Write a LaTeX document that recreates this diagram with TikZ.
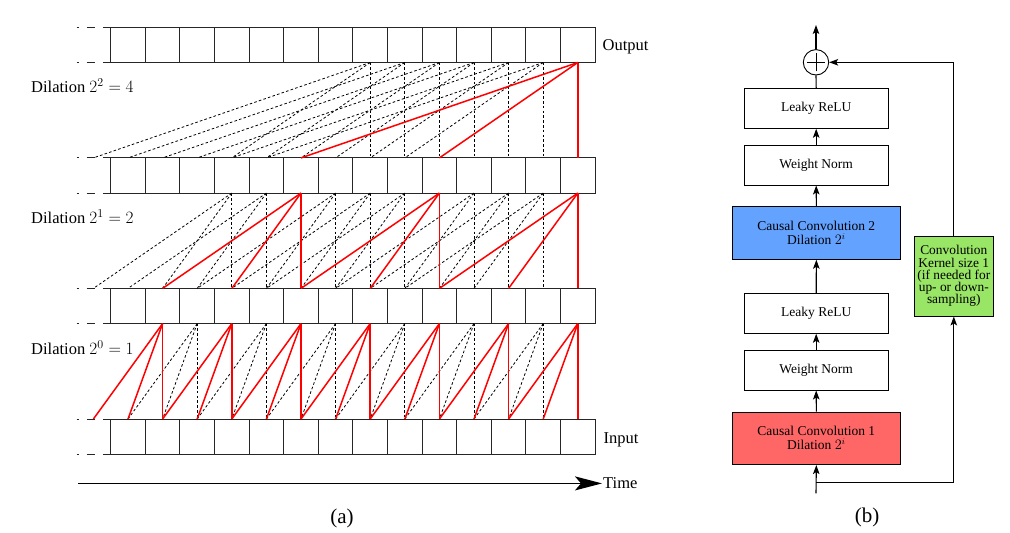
\documentclass[tikz,border=0pt]{standalone}
\usepackage{fontspec}
\setmainfont{Liberation Serif}
\usetikzlibrary{arrows.meta}
\definecolor{convblue}{RGB}{99,162,255}
\definecolor{convred}{RGB}{255,102,102}
\definecolor{convgreen}{RGB}{153,229,102}
\definecolor{linkred}{RGB}{255,0,0}
\begin{document}
\begin{tikzpicture}[x=1pt,y=-1pt,
  cellline/.style={draw=black!85, line width=0.9pt},
  dlink/.style={black, line width=0.8pt, dash pattern=on 2.6pt off 2.2pt},
  rlink/.style={linkred, line width=1.5pt},
  lbl/.style={font=\fontsize{16.5}{18}\selectfont, inner sep=1pt},
  blk/.style={draw, line width=0.9pt, minimum width=144.3pt, minimum height=40pt,
    font=\fontsize{13.5}{14}\selectfont, align=center, inner sep=1pt},
  cbox/.style={blk, minimum width=167.3pt, minimum height=52.6pt},
  arr/.style={line width=1.1pt, -{Stealth[length=9pt,width=6.5pt,inset=2pt]}},
  figcap/.style={font=\fontsize{21}{24}\selectfont, inner sep=0pt}]
\useasboundingbox (0,0) rectangle (1010,533);

% ---------- (a) cells ----------
\foreach \r/\yt in {0/419,1/288.4,2/157.9,3/27.3}{
  \foreach \k in {0,...,13}{
    \node[cellline, minimum width=34.6pt, minimum height=35.2pt, inner sep=0pt]
      (c\r-\k) at ({128+34.6*\k},{\yt+17.6}) {};
  }
  \foreach \j in {-1,...,13}{
    \coordinate (t\r-\j) at ({128+34.6*\j},\yt);
    \coordinate (b\r-\j) at ({128+34.6*\j},{\yt+35.2});
  }
  \foreach \yy in {\yt,{\yt+35.2}}{
    \draw[cellline] (76.7,\yy) -- (79,\yy) (86.7,\yy) -- (95,\yy) (103.3,\yy) -- (110.7,\yy);
  }
}

% ---------- dashed links ----------
\foreach \k in {2,4,...,12}{\foreach \d in {0,1,2}{
  \pgfmathtruncatemacro\j{\k-\d}\draw[dlink] (b1-\k) -- (t0-\j);}}
\foreach \k in {3,4,6,7,8,10,11,12}{\foreach \d in {0,1,2}{
  \pgfmathtruncatemacro\j{\k-2*\d}\draw[dlink] (b2-\k) -- (t1-\j);}}
\foreach \k in {7,...,12}{\foreach \d in {0,1,2}{
  \pgfmathtruncatemacro\j{\k-4*\d}\draw[dlink] (b3-\k) -- (t2-\j);}}

% ---------- red links ----------
\foreach \k in {1,3,...,13}{\foreach \d in {0,1,2}{
  \pgfmathtruncatemacro\j{\k-\d}\draw[rlink] (b1-\k) -- (t0-\j);}}
\foreach \k in {5,9,13}{\foreach \d in {0,1,2}{
  \pgfmathtruncatemacro\j{\k-2*\d}\draw[rlink] (b2-\k) -- (t1-\j);}}
\foreach \d in {0,1,2}{
  \pgfmathtruncatemacro\j{13-4*\d}\draw[rlink] (b3-13) -- (t2-\j);}

% ---------- (a) labels ----------
\node[lbl, anchor=west] (lout) at (601.5,46.5) {Output};
\node[lbl, anchor=west] (lin) at (602.5,439.5) {Input};
\node[lbl, anchor=west] (ld2) at (30,86) {Dilation $2^2=4$};
\node[lbl, anchor=west] (ld1) at (30,217) {Dilation $2^1=2$};
\node[lbl, anchor=west] (ld0) at (30,348) {Dilation $2^0=1$};
\coordinate (ts) at (78,483.4);
\node[lbl, anchor=west] (time) at (602,483.4) {Time};
\draw[line width=1.5pt, -{Stealth[length=27pt,width=14pt,inset=6pt]}] (ts) -- (time.west);
\node[figcap] (capa) at (342,518) {(a)};

% ---------- (b) residual block ----------
\node[blk] (lr2) at (816.2,108.3) {Leaky ReLU};
\node[blk] (wn2) at (816.2,165) {Weight Norm};
\node[cbox, fill=convblue] (cc2) at (816.35,233) {Causal Convolution 2\\Dilation $2^i$};
\node[blk] (lr1) at (816.2,313.3) {Leaky ReLU};
\node[blk] (wn1) at (816.2,370) {Weight Norm};
\node[cbox, fill=convred] (cc1) at (816.35,438.3) {Causal Convolution 1\\Dilation $2^i$};
\node[draw, line width=0.9pt, fill=convgreen, minimum width=79pt, minimum height=80pt,
  align=center, inner sep=0pt, font=\fontsize{13.4}{12.2}\selectfont]
  (res) at (953.8,276) {Convolution\\Kernel size 1\\(if needed for\\up- or down-\\sampling)};
\node[draw, circle, line width=0.9pt, minimum size=25.4pt, inner sep=0pt] (plus) at (816,62.3) {};
\draw[line width=0.9pt] ([yshift=-9pt]plus.center) -- ([yshift=9pt]plus.center)
  ([xshift=-9pt]plus.center) -- ([xshift=9pt]plus.center);

\coordinate (bout) at (816,25);
\coordinate (bin) at (816,493.3);
\coordinate (br) at (816,482.3);
\coordinate (brr) at (953.8,482.3);
\coordinate (tr) at (953.8,62.3);

\draw[arr] (bin) -- (cc1.south);
\draw[arr] (cc1.north) -- (wn1.south);
\draw[arr] (wn1.north) -- (lr1.south);
\draw[arr] (lr1.north) -- (cc2.south);
\draw[arr] (cc2.north) -- (wn2.south);
\draw[arr] (wn2.north) -- (lr2.south);
\draw[line width=1.1pt] (lr2.north) -- (plus.south);
\draw[arr] (plus.north) -- (bout);
\draw[arr] (br) -- (brr) -- (res.south);
\draw[arr] (res.north) -- (tr) -- (plus.east);
\node[figcap] (capb) at (867,517) {(b)};
\end{tikzpicture}
\end{document}
